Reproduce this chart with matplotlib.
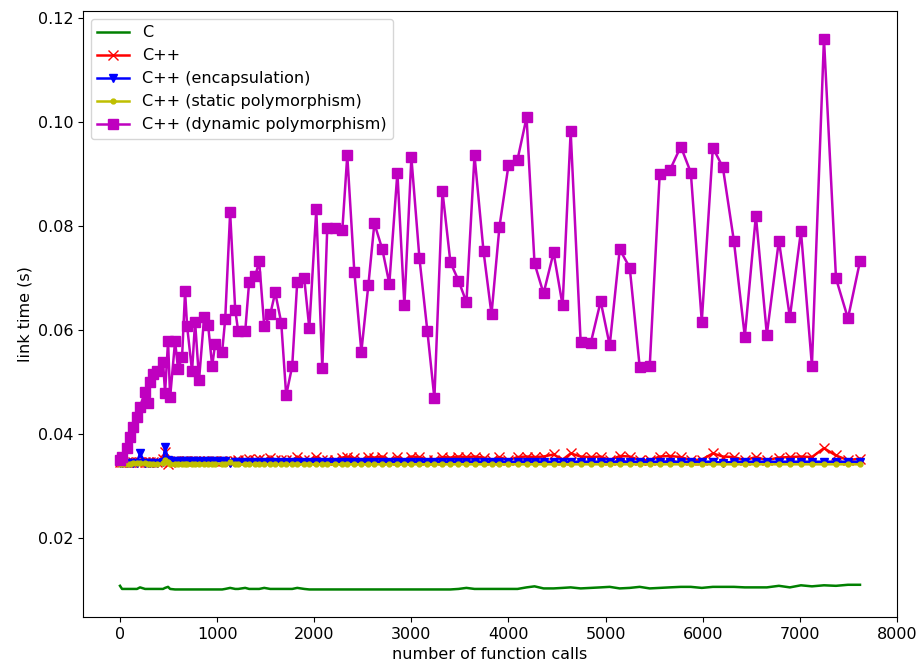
import matplotlib
matplotlib.use("Agg")
import matplotlib.pyplot as plt

# number of function calls in each benchmark program
calls = [0, 21, 72, 103, 134, 175, 206, 258, 289, 309,
         340, 381, 443, 464, 495, 516, 567, 598, 639, 670,
         691, 742, 773, 814, 866, 907, 949, 979, 1052, 1083,
         1134, 1186, 1217, 1289, 1330, 1392, 1433, 1485, 1547, 1598,
         1660, 1711, 1773, 1825, 1897, 1949, 2021, 2083, 2134, 2217,
         2289, 2340, 2413, 2485, 2557, 2619, 2701, 2773, 2856, 2928,
         3000, 3083, 3165, 3237, 3320, 3402, 3485, 3567, 3650, 3743,
         3825, 3907, 4000, 4093, 4186, 4268, 4361, 4464, 4557, 4640,
         4743, 4846, 4949, 5042, 5145, 5248, 5351, 5454, 5557, 5660,
         5774, 5877, 5990, 6104, 6207, 6320, 6433, 6547, 6660, 6784,
         6897, 7011, 7124, 7248, 7372, 7495, 7619]

# link times in seconds
t_c = [0.0107, 0.0101, 0.0101, 0.0101, 0.0101, 0.0101, 0.0104, 0.0101, 0.0101, 0.0101,
       0.0101, 0.0101, 0.0101, 0.0103, 0.0105, 0.0101, 0.0100, 0.0100, 0.0100, 0.0100,
       0.0100, 0.0100, 0.0100, 0.0100, 0.0100, 0.0100, 0.0100, 0.0100, 0.0100, 0.0101,
       0.0103, 0.0101, 0.0101, 0.0103, 0.0101, 0.0101, 0.0101, 0.0103, 0.0101, 0.0101,
       0.0101, 0.0101, 0.0101, 0.0103, 0.0101, 0.0100, 0.0100, 0.0100, 0.0100, 0.0100,
       0.0100, 0.0100, 0.0100, 0.0100, 0.0100, 0.0100, 0.0100, 0.0100, 0.0100, 0.0100,
       0.0100, 0.0100, 0.0100, 0.0100, 0.0100, 0.0100, 0.0101, 0.0103, 0.0101, 0.0101,
       0.0101, 0.0101, 0.0101, 0.0101, 0.0104, 0.0106, 0.0102, 0.0102, 0.0103, 0.0104,
       0.0102, 0.0103, 0.0104, 0.0105, 0.0102, 0.0103, 0.0105, 0.0102, 0.0103, 0.0104,
       0.0105, 0.0105, 0.0103, 0.0105, 0.0105, 0.0105, 0.0104, 0.0104, 0.0104, 0.0107,
       0.0104, 0.0108, 0.0106, 0.0108, 0.0107, 0.0109, 0.0109]

t_cpp = [0.0345, 0.0345, 0.0345, 0.0345, 0.0345, 0.0345, 0.0345, 0.0345, 0.0346, 0.0346,
         0.0346, 0.0346, 0.0352, 0.0364, 0.0341, 0.0346, 0.0347, 0.0347, 0.0347, 0.0347,
         0.0347, 0.0347, 0.0347, 0.0348, 0.0348, 0.0348, 0.0348, 0.0348, 0.0348, 0.0348,
         0.0348, 0.0348, 0.0349, 0.0350, 0.0351, 0.0350, 0.0351, 0.0349, 0.0354, 0.0349,
         0.0349, 0.0349, 0.0349, 0.0355, 0.0349, 0.0349, 0.0355, 0.0349, 0.0349, 0.0349,
         0.0354, 0.0356, 0.0353, 0.0349, 0.0355, 0.0354, 0.0356, 0.0349, 0.0355, 0.0349,
         0.0356, 0.0355, 0.0349, 0.0350, 0.0355, 0.0354, 0.0356, 0.0355, 0.0356, 0.0354,
         0.0349, 0.0355, 0.0349, 0.0355, 0.0356, 0.0355, 0.0356, 0.0360, 0.0350, 0.0362,
         0.0356, 0.0355, 0.0356, 0.0349, 0.0357, 0.0356, 0.0349, 0.0349, 0.0356, 0.0357,
         0.0355, 0.0349, 0.0350, 0.0362, 0.0356, 0.0355, 0.0349, 0.0355, 0.0349, 0.0354,
         0.0355, 0.0356, 0.0355, 0.0372, 0.0358, 0.0349, 0.0352]

t_encap = [0.0344, 0.0344, 0.0344, 0.0344, 0.0344, 0.0344, 0.0362, 0.0344, 0.0344, 0.0344,
           0.0344, 0.0344, 0.0346, 0.0374, 0.0350, 0.0348, 0.0347, 0.0347, 0.0347, 0.0347,
           0.0347, 0.0347, 0.0347, 0.0347, 0.0347, 0.0347, 0.0347, 0.0347, 0.0347, 0.0347,
           0.0343, 0.0346, 0.0346, 0.0346, 0.0346, 0.0346, 0.0346, 0.0346, 0.0346, 0.0346,
           0.0346, 0.0346, 0.0346, 0.0346, 0.0346, 0.0346, 0.0346, 0.0346, 0.0346, 0.0346,
           0.0346, 0.0346, 0.0346, 0.0346, 0.0346, 0.0346, 0.0346, 0.0346, 0.0346, 0.0346,
           0.0346, 0.0346, 0.0346, 0.0346, 0.0346, 0.0346, 0.0346, 0.0346, 0.0346, 0.0346,
           0.0346, 0.0346, 0.0346, 0.0346, 0.0346, 0.0346, 0.0346, 0.0346, 0.0346, 0.0346,
           0.0346, 0.0346, 0.0346, 0.0346, 0.0346, 0.0346, 0.0346, 0.0346, 0.0346, 0.0346,
           0.0346, 0.0346, 0.0346, 0.0346, 0.0344, 0.0346, 0.0346, 0.0346, 0.0346, 0.0346,
           0.0346, 0.0346, 0.0346, 0.0346, 0.0346, 0.0346, 0.0346]

t_static = [0.0341, 0.0341, 0.0341, 0.0341, 0.0343, 0.0343, 0.0343, 0.0343, 0.0341, 0.0341,
            0.0341, 0.0341, 0.0343, 0.0350, 0.0345, 0.0342, 0.0342, 0.0342, 0.0342, 0.0342,
            0.0342, 0.0342, 0.0342, 0.0342, 0.0342, 0.0342, 0.0342, 0.0342, 0.0342, 0.0342,
            0.0345, 0.0341, 0.0341, 0.0341, 0.0341, 0.0341, 0.0341, 0.0341, 0.0341, 0.0341,
            0.0341, 0.0341, 0.0341, 0.0341, 0.0341, 0.0341, 0.0341, 0.0341, 0.0341, 0.0341,
            0.0341, 0.0341, 0.0341, 0.0341, 0.0341, 0.0341, 0.0341, 0.0341, 0.0341, 0.0341,
            0.0341, 0.0341, 0.0341, 0.0341, 0.0341, 0.0341, 0.0341, 0.0341, 0.0341, 0.0341,
            0.0341, 0.0341, 0.0341, 0.0341, 0.0341, 0.0341, 0.0341, 0.0341, 0.0341, 0.0341,
            0.0341, 0.0341, 0.0341, 0.0341, 0.0341, 0.0341, 0.0341, 0.0341, 0.0341, 0.0341,
            0.0341, 0.0341, 0.0341, 0.0341, 0.0341, 0.0341, 0.0341, 0.0341, 0.0341, 0.0341,
            0.0341, 0.0341, 0.0341, 0.0341, 0.0341, 0.0341, 0.0341]

t_dynamic = [0.0350, 0.0356, 0.0373, 0.0393, 0.0412, 0.0433, 0.0452, 0.0481, 0.0460, 0.0499,
             0.0514, 0.0520, 0.0539, 0.0479, 0.0578, 0.0470, 0.0578, 0.0524, 0.0547, 0.0674,
             0.0607, 0.0520, 0.0616, 0.0504, 0.0624, 0.0610, 0.0530, 0.0572, 0.0558, 0.0620,
             0.0826, 0.0639, 0.0597, 0.0597, 0.0693, 0.0703, 0.0732, 0.0607, 0.0630, 0.0672,
             0.0614, 0.0474, 0.0530, 0.0693, 0.0699, 0.0603, 0.0832, 0.0526, 0.0797, 0.0797,
             0.0792, 0.0936, 0.0711, 0.0558, 0.0686, 0.0805, 0.0755, 0.0689, 0.0903, 0.0647,
             0.0932, 0.0738, 0.0597, 0.0468, 0.0867, 0.0730, 0.0695, 0.0653, 0.0936, 0.0751,
             0.0630, 0.0799, 0.0917, 0.0928, 0.1009, 0.0728, 0.0670, 0.0749, 0.0647, 0.0982,
             0.0576, 0.0574, 0.0655, 0.0570, 0.0755, 0.0720, 0.0528, 0.0530, 0.0901, 0.0907,
             0.0953, 0.0903, 0.0616, 0.0951, 0.0913, 0.0772, 0.0587, 0.0820, 0.0591, 0.0772,
             0.0624, 0.0790, 0.0531, 0.1161, 0.0699, 0.0622, 0.0732]

labels = ["C", "C++", "C++ (encapsulation)", "C++ (static polymorphism)",
          "C++ (dynamic polymorphism)"]

FS = 11.5

fig = plt.figure(figsize=(9.17, 6.65), dpi=100)
ax = fig.add_axes([83 / 917, 48 / 665, 814 / 917, 606 / 665])

ax.plot(calls, t_c, color="g", linestyle="-", linewidth=1.8, label=labels[0])
ax.plot(calls, t_cpp, color="r", linestyle="-", marker="x", markersize=7,
        linewidth=1.8, label=labels[1])
ax.plot(calls, t_encap, color="b", linestyle="-", marker="v", markersize=6,
        linewidth=1.8, label=labels[2])
ax.plot(calls, t_static, color="y", linestyle="-", marker=".", markersize=7,
        linewidth=1.8, label=labels[3])
ax.plot(calls, t_dynamic, color="m", linestyle="-", marker="s", markersize=7,
        linewidth=1.8, label=labels[4])

ax.set_xlabel("number of function calls", fontsize=FS)
ax.set_ylabel("link time (s)", fontsize=FS)
ax.tick_params(labelsize=FS)
ax.set_xticks([0, 1000, 2000, 3000, 4000, 5000, 6000, 7000, 8000])
ax.set_yticks([0.02, 0.04, 0.06, 0.08, 0.10, 0.12])
ax.set_yticklabels(["0.02", "0.04", "0.06", "0.08", "0.10", "0.12"])

ax.legend(loc="upper left", fontsize=FS)

fig.savefig("out.png", dpi=100)
